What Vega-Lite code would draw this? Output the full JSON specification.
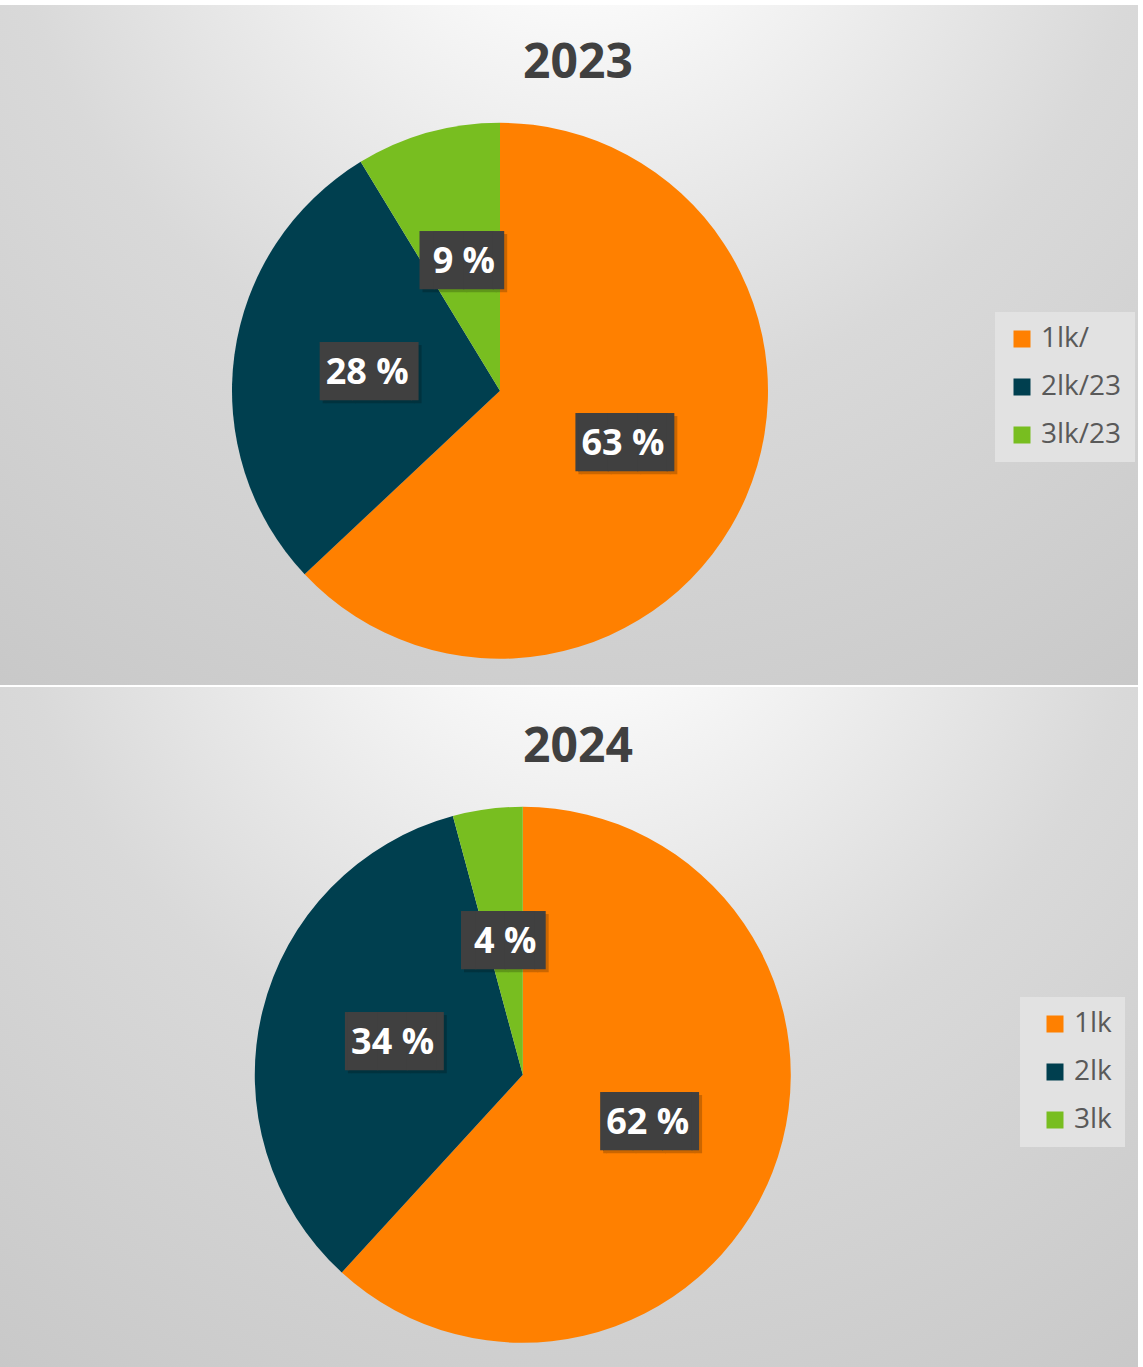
{
  "$schema": "https://vega.github.io/schema/vega-lite/v6.json",
  "padding": {"left": -138, "top": 5, "right": 5, "bottom": 0},
  "autosize": {"type": "pad"},
  "background": "white",
  "width": 1276,
  "height": 1362,
  "config": {"view": {"stroke": null}, "font": "Open Sans"},
  "data": {"values": [
    {"year": 2023, "cat": "1lk/", "value": 63.0, "label": "63 %"},
    {"year": 2023, "cat": "2lk/23", "value": 28.3, "label": "28 %"},
    {"year": 2023, "cat": "3lk/23", "value": 8.7, "label": "9 %"},
    {"year": 2024, "cat": "1lk", "value": 61.8, "label": "62 %"},
    {"year": 2024, "cat": "2lk", "value": 34.0, "label": "34 %"},
    {"year": 2024, "cat": "3lk", "value": 4.2, "label": "4 %"}
  ], "format": {"parse": {"year": "number"}}},
  "resolve": {"scale": {"y": "independent", "color": "independent"}},
  "layer": [
    {
      "transform": [{"aggregate": [{"op": "count", "as": "n"}], "groupby": ["year"]}],
      "mark": {"type": "rect", "fill": {"gradient": "radial", "x1": 0.561, "y1": 0.096, "r1": 0, "x2": 0.561, "y2": 0.096, "r2": 0.9,
        "stops": [{"offset": 0, "color": "#ffffff"}, {"offset": 0.12, "color": "#fcfcfc"}, {"offset": 0.5, "color": "#d9d9d9"}, {"offset": 1, "color": "#c4c4c4"}]}},
      "encoding": {
        "y": {"field": "year", "type": "ordinal", "axis": null, "scale": {"type": "band", "domain": [2023, 2024], "paddingInner": 0.003, "paddingOuter": 0}}
      }
    },
    {
      "transform": [{"aggregate": [{"op": "count", "as": "n"}], "groupby": ["year"]}],
      "mark": {"type": "text", "font": "Open Sans", "fontSize": 48, "fontWeight": "bold", "color": "#404040", "baseline": "alphabetic", "align": "center", "dx": 78, "dy": -313},
      "encoding": {
        "y": {"field": "year", "type": "ordinal", "axis": null, "scale": {"type": "point", "domain": [2023, 2024], "padding": 0.4956, "align": 0.569}},
        "text": {"field": "year", "type": "nominal"}
      }
    },
    {
      "transform": [{"filter": "datum.year == 2023"}],
      "encoding": {
        "x": {"field": "year", "type": "temporal", "axis": null, "scale": {"type": "time", "domain": [1995, 2051], "nice": false}},
        "y": {"field": "year", "type": "ordinal", "axis": null, "scale": {"type": "point", "domain": [2023, 2024], "padding": 0.4956, "align": 0.569}},
        "theta": {"field": "value", "type": "quantitative", "stack": true},
        "order": {"field": "cat", "type": "ordinal"}
      },
      "layer": [
        {
          "mark": {"type": "arc", "radius": 268},
          "encoding": {
            "color": {"field": "cat", "type": "nominal",
              "scale": {"domain": ["1lk/", "2lk/23", "3lk/23"], "range": ["#FF8000", "#003F4F", "#78BE20"]},
              "legend": {"orient": "none", "legendX": 1133, "legendY": 307, "title": null, "symbolType": "square", "symbolSize": 289, "symbolStrokeWidth": 0,
                "labelFontSize": 28, "labelFont": "Open Sans", "labelColor": "#595959", "fillColor": "#e2e2e2", "padding": 13, "rowPadding": 20, "symbolOffset": 0, "labelOffset": 5}}
          }
        },
        {
          "mark": {"type": "text", "radius": 134, "font": "DejaVu Sans Mono", "fontSize": 49, "color": "#000000", "opacity": 0.2, "dx": 3, "dy": 3},
          "encoding": {"text": {"condition": {"test": "length(datum.label) > 3", "value": "▕███▎"}, "value": "▐██▍"}}
        },
        {
          "mark": {"type": "text", "radius": 134, "font": "DejaVu Sans Mono", "fontSize": 49, "color": "#404040"},
          "encoding": {"text": {"condition": {"test": "length(datum.label) > 3", "value": "▕███▎"}, "value": "▐██▍"}}
        },
        {
          "mark": {"type": "text", "radius": 134, "font": "Open Sans", "fontSize": 36, "fontWeight": "bold", "color": "#ffffff"},
          "encoding": {"text": {"field": "label", "type": "nominal"}}
        }
      ]
    },
    {
      "transform": [{"filter": "datum.year == 2024"}],
      "encoding": {
        "x": {"field": "year", "type": "temporal", "axis": null, "scale": {"type": "time", "domain": [1995, 2051], "nice": false}},
        "y": {"field": "year", "type": "ordinal", "axis": null, "scale": {"type": "point", "domain": [2023, 2024], "padding": 0.4956, "align": 0.569}},
        "theta": {"field": "value", "type": "quantitative", "stack": true},
        "order": {"field": "cat", "type": "ordinal"}
      },
      "layer": [
        {
          "mark": {"type": "arc", "radius": 268},
          "encoding": {
            "color": {"field": "cat", "type": "nominal",
              "scale": {"domain": ["1lk", "2lk", "3lk"], "range": ["#FF8000", "#003F4F", "#78BE20"]},
              "legend": {"orient": "none", "legendX": 1158, "legendY": 992, "title": null, "symbolType": "square", "symbolSize": 289, "symbolStrokeWidth": 0,
                "labelFontSize": 28, "labelFont": "Open Sans", "labelColor": "#595959", "fillColor": "#e2e2e2", "padding": 13, "rowPadding": 20, "symbolOffset": 8, "labelOffset": 5}}
          }
        },
        {
          "mark": {"type": "text", "radius": 134, "font": "DejaVu Sans Mono", "fontSize": 49, "color": "#000000", "opacity": 0.2, "dx": 3, "dy": 3},
          "encoding": {"text": {"condition": {"test": "length(datum.label) > 3", "value": "▕███▎"}, "value": "▐██▍"}}
        },
        {
          "mark": {"type": "text", "radius": 134, "font": "DejaVu Sans Mono", "fontSize": 49, "color": "#404040"},
          "encoding": {"text": {"condition": {"test": "length(datum.label) > 3", "value": "▕███▎"}, "value": "▐██▍"}}
        },
        {
          "mark": {"type": "text", "radius": 134, "font": "Open Sans", "fontSize": 36, "fontWeight": "bold", "color": "#ffffff"},
          "encoding": {"text": {"field": "label", "type": "nominal"}}
        }
      ]
    }
  ]
}
